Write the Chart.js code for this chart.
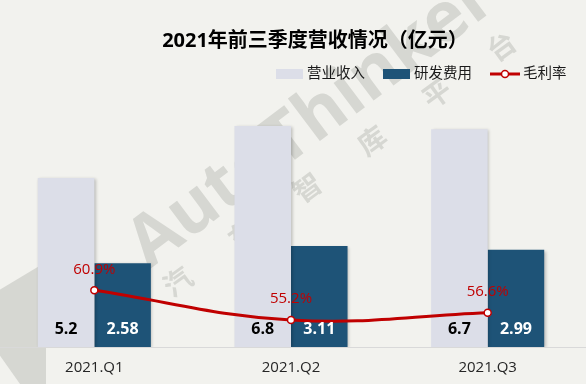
<!DOCTYPE html>
<html>
<head>
<meta charset="utf-8">
<script src="https://cdn.jsdelivr.net/npm/chart.js@4"></script>
<style>
    html, body { margin: 0; padding: 0; background: #f2f2ee; overflow: hidden; }
    #wrap { width: 590px; height: 384px; margin-left: -4px; }
</style>
</head>
<body>
<div id="wrap"><canvas id="barChart"></canvas></div>
<script>
// Data
const categories = ['2021.Q1', '2021.Q2', '2021.Q3'];
const revenue = [5.2, 6.8, 6.7];          // 营业收入 (亿元)
const rdExpense = [2.58, 3.11, 2.99];     // 研发费用 (亿元)
const grossMargin = [60.9, 55.2, 56.6];   // 毛利率 (%)

const FONT = "'Segoe UI', 'Open Sans', 'Noto Sans CJK SC', sans-serif";
const BG = '#f2f2ee';
const C_REV = '#dcdee8';
const C_RD = '#1e5377';
const C_RED = '#c00000';
const OX = 4; // canvas is shifted 4px left of the page

// Background + faint watermark, drawn before everything else
const backdrop = {
    id: 'backdrop',
    beforeDraw(chart) {
        const ctx = chart.ctx;
        ctx.save();
        ctx.fillStyle = BG;
        ctx.fillRect(0, 0, chart.width, chart.height);
        ctx.translate(OX, 0);

        ctx.fillStyle = '#d6d7d2';
        // logo fragment, bottom left
        ctx.beginPath();
        ctx.moveTo(-4, 292);
        ctx.lineTo(46, 262);
        ctx.lineTo(46, 384);
        ctx.lineTo(20, 384);
        ctx.lineTo(-4, 350);
        ctx.closePath();
        ctx.fill();

        ctx.save();
        ctx.translate(312, 122);
        ctx.rotate(-37 * Math.PI / 180);
        ctx.font = 'bold 70px ' + FONT;
        ctx.textAlign = 'center';
        ctx.textBaseline = 'middle';
        ctx.fillText('AutoThinker', 0, 0);
        ctx.restore();

        ctx.translate(341, 166);
        ctx.rotate(-36 * Math.PI / 180);
        ctx.font = 'bold 28px ' + FONT;
        ctx.textAlign = 'center';
        ctx.textBaseline = 'middle';
        '汽车智库平台'.split('').forEach((ch, i) => {
            ctx.fillText(ch, -200 + i * 80, 0);
        });
        ctx.restore();
    }
};

// Soft shadow behind the bars
const barShadow = {
    id: 'barShadow',
    beforeDatasetDraw(chart, args) {
        if (args.meta.type !== 'bar') return;
        const ctx = chart.ctx;
        ctx.save();
        ctx.shadowColor = 'rgba(0, 0, 0, 0.22)';
        ctx.shadowBlur = 3;
        ctx.shadowOffsetX = 1.5;
        ctx.shadowOffsetY = 1;
    },
    afterDatasetDraw(chart, args) {
        if (args.meta.type !== 'bar') return;
        chart.ctx.restore();
    }
};

// Value labels on bars and line points
const valueLabels = {
    id: 'valueLabels',
    afterDatasetsDraw(chart) {
        const ctx = chart.ctx;
        ctx.save();
        ctx.textAlign = 'center';
        ctx.textBaseline = 'middle';

        const revMeta = chart.getDatasetMeta(1);
        const rdMeta = chart.getDatasetMeta(2);
        ctx.font = 'bold 16px ' + FONT;
        revMeta.data.forEach((bar, i) => {
            ctx.fillStyle = '#000000';
            ctx.fillText(revenue[i].toFixed(1), bar.x, bar.base - 18);
        });
        rdMeta.data.forEach((bar, i) => {
            ctx.fillStyle = '#ffffff';
            ctx.fillText(rdExpense[i].toFixed(2), bar.x, bar.base - 18);
        });

        const lineMeta = chart.getDatasetMeta(0);
        ctx.font = '15px ' + FONT;
        ctx.fillStyle = C_RED;
        lineMeta.data.forEach((pt, i) => {
            ctx.fillText(grossMargin[i].toFixed(1) + '%', pt.x, pt.y - 21);
        });
        ctx.restore();
    }
};

// Title and legend
const header = {
    id: 'header',
    afterDraw(chart) {
        const ctx = chart.ctx;
        ctx.save();
        ctx.translate(OX, 0);
        ctx.fillStyle = '#000000';
        ctx.font = 'bold 20px ' + FONT;
        ctx.textAlign = 'center';
        ctx.textBaseline = 'middle';
        ctx.fillText('2021年前三季度营收情况（亿元）', 315, 41);

        ctx.font = '14.5px ' + FONT;
        ctx.textAlign = 'left';
        let x = 276;
        const y = 74;
        const items = [
            { text: '营业收入', kind: 'box', color: C_REV },
            { text: '研发费用', kind: 'box', color: C_RD },
            { text: '毛利率', kind: 'line', color: C_RED }
        ];
        items.forEach(item => {
            if (item.kind === 'box') {
                ctx.fillStyle = item.color;
                ctx.fillRect(x, y - 5, 27, 10);
                x += 31;
            } else {
                ctx.strokeStyle = item.color;
                ctx.lineWidth = 3;
                ctx.beginPath();
                ctx.moveTo(x, y);
                ctx.lineTo(x + 30, y);
                ctx.stroke();
                ctx.beginPath();
                ctx.arc(x + 15, y, 3.5, 0, Math.PI * 2);
                ctx.fillStyle = '#ffffff';
                ctx.fill();
                ctx.lineWidth = 1.5;
                ctx.stroke();
                x += 33;
            }
            ctx.fillStyle = '#1a1a1a';
            ctx.fillText(item.text, x, y);
            x += ctx.measureText(item.text).width + 18;
        });
        ctx.restore();
    }
};

new Chart(document.getElementById('barChart').getContext('2d'), {
    data: {
        labels: categories,
        datasets: [
            {
                type: 'line',
                label: '毛利率',
                data: grossMargin,
                yAxisID: 'y1',
                borderColor: C_RED,
                borderWidth: 3,
                tension: 0.4,
                pointRadius: 3.5,
                pointBackgroundColor: '#ffffff',
                pointBorderColor: C_RED,
                pointBorderWidth: 1.5,
                order: 0
            },
            {
                type: 'bar',
                label: '营业收入',
                data: revenue,
                yAxisID: 'y',
                backgroundColor: C_REV,
                barPercentage: 1,
                categoryPercentage: 0.575,
                order: 1
            },
            {
                type: 'bar',
                label: '研发费用',
                data: rdExpense,
                yAxisID: 'y',
                backgroundColor: C_RD,
                barPercentage: 1,
                categoryPercentage: 0.575,
                order: 1
            }
        ]
    },
    options: {
        responsive: true,
        maintainAspectRatio: false,
        animation: false,
        layout: { autoPadding: false, padding: { top: 87, left: 0, right: 0, bottom: 0 } },
        plugins: {
            legend: { display: false },
            title: { display: false },
            tooltip: { enabled: false }
        },
        scales: {
            x: {
                grid: { display: false, drawTicks: false },
                border: { display: true, color: '#d9d9d9', width: 1 },
                ticks: { color: '#262626', font: { family: FONT, size: 15 }, padding: 12 },
                afterFit(scale) { scale.height = 37; }
            },
            y: { display: false, min: 0, max: 8 },
            y1: { display: false, min: 50, max: 100 }
        }
    },
    plugins: [backdrop, barShadow, valueLabels, header]
});
</script>
</body>
</html>
